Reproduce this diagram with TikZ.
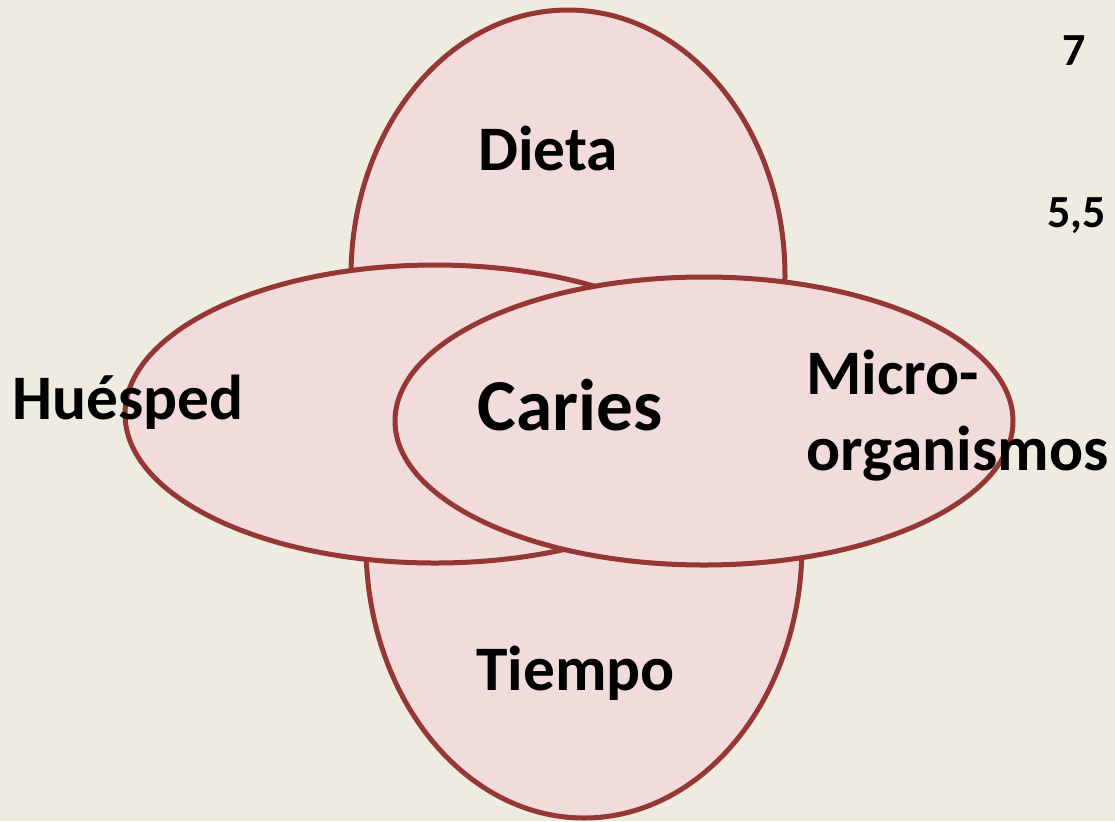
\documentclass[tikz,border=0pt]{standalone}
\usepackage{fontspec}
\setmainfont{Carlito}
\usepackage{xcolor}
\usetikzlibrary{shapes.geometric}
\definecolor{fondo}{HTML}{EEECE1}
\definecolor{relleno}{HTML}{F2DCDB}
\definecolor{borde}{HTML}{953735}

\begin{document}
\begin{tikzpicture}[x=0.5pt,y=-0.5pt]
\tikzstyle{factor} =[ellipse, draw=borde, fill=relleno, line width=2.5pt, inner sep=0pt]
\tikzstyle{rotulo} =[font=\fontsize{31.7}{38}\selectfont\bfseries, inner sep=0pt, anchor=base west]
\tikzstyle{valor} =[font=\fontsize{23}{28}\selectfont\bfseries, inner sep=0pt, anchor=base west]

\fill[fondo] (0,0) rectangle (1115,821);
\useasboundingbox (0,0) rectangle (1115,821);

\node[factor,minimum width=218pt,minimum height=273pt](tiempo) at (584,545){};
\node[factor,minimum width=217pt,minimum height=266pt](dieta) at (568,276){};
\node[factor,minimum width=310pt,minimum height=149pt](huesped) at (435,414){};
\node[factor,minimum width=309pt,minimum height=144pt](micro) at (704,421){};

\node[rotulo](tdieta) at (478,170){Dieta};
\node[rotulo](thuesped) at (12,419){Huésped};
\node[rotulo,font=\fontsize{36.6}{44}\selectfont\bfseries](tcaries) at (477,430){Caries};
\node[rotulo,align=left,anchor=north west](tmicro) at (806,350){Micro-\\organismos};
\node[rotulo](ttiempo) at (476,690){Tiempo};

\node[valor](siete) at (1062,65){7};
\node[valor](cinco) at (1047,227){5,5};
\end{tikzpicture}
\end{document}
